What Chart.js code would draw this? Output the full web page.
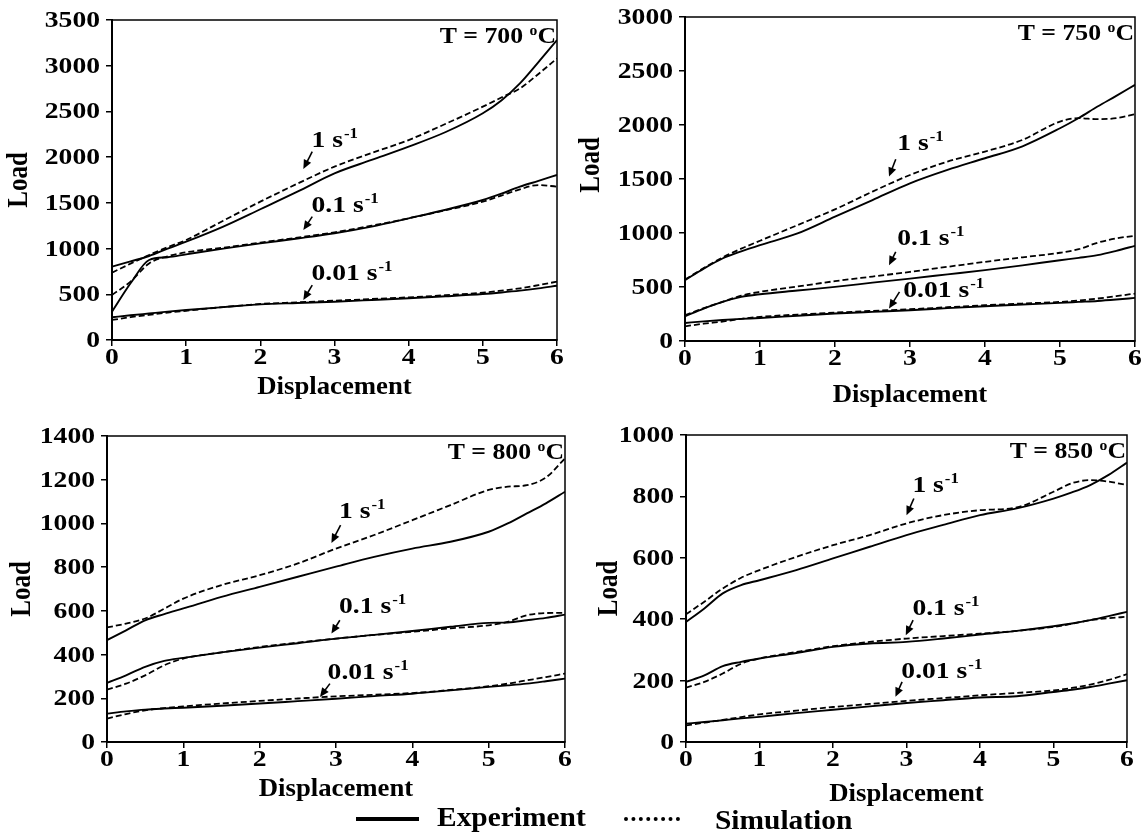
<html>
  <head>
    <script src="https://cdn.jsdelivr.net/npm/chart.js@4.4.1/dist/chart.umd.min.js"></script>
    <style>
      body { margin: 0; background: #fff; width: 1147px; height: 836px; position: relative; overflow: hidden; }
      canvas { position: absolute; }
      .leg { position: absolute; font: bold 27px "Liberation Serif", "Times New Roman", serif; line-height: 27px; color: #000; transform: scaleX(1.09); transform-origin: left center; }
    </style>
  </head>
  <body>
    <canvas id="c700" style="left:0;top:0" width="573" height="410"></canvas>
    <canvas id="c750" style="left:573px;top:0" width="574" height="410"></canvas>
    <canvas id="c800" style="left:0;top:415px" width="573" height="400"></canvas>
    <canvas id="c850" style="left:573px;top:415px" width="574" height="400"></canvas>

    <div style="position:absolute;left:356px;top:817px;width:63px;height:4px;background:#000"></div>
    <div class="leg" style="left:437px;top:804px">Experiment</div>
    <div style="position:absolute;left:624px;top:817px;width:56px;height:0;border-top:4px dotted #000"></div>
    <div class="leg" style="left:715px;top:807px">Simulation</div>

    <script>
// displacement values shared by every curve
const disp = [0, 0.25, 0.5, 0.75, 1, 1.5, 2, 2.5, 3, 3.5, 4, 4.5, 5, 5.25, 5.5, 5.75, 6];

// T = 700 C
const exp700_1   = [802, 860, 919, 1000, 1075, 1240, 1430, 1622, 1823, 1969, 2115, 2275, 2480, 2620, 2807, 3040, 3281];
const sim700_1   = [736, 835, 930, 1015, 1094, 1305, 1513, 1710, 1896, 2045, 2187, 2365, 2552, 2652, 2752, 2910, 3080];
const exp700_01  = [310, 620, 875, 905, 937, 1000, 1057, 1110, 1167, 1240, 1331, 1425, 1531, 1600, 1677, 1740, 1805];
const sim700_01  = [492, 638, 838, 915, 959, 1010, 1065, 1120, 1178, 1250, 1331, 1420, 1513, 1580, 1648, 1695, 1677];
const exp700_001 = [248, 270, 290, 310, 328, 360, 390, 405, 419, 437, 456, 478, 503, 520, 540, 565, 594];
const sim700_001 = [219, 250, 275, 300, 320, 360, 394, 412, 430, 448, 467, 490, 518, 540, 565, 600, 638];

// T = 750 C
const exp750_1   = [563, 670, 764, 830, 888, 996, 1151, 1305, 1460, 1584, 1692, 1803, 1970, 2065, 2171, 2270, 2372];
const sim750_1   = [569, 675, 773, 855, 928, 1073, 1219, 1383, 1537, 1661, 1754, 1862, 2032, 2063, 2054, 2063, 2100];
const exp750_01  = [229, 300, 362, 408, 433, 467, 501, 540, 578, 617, 656, 700, 748, 770, 795, 835, 881];
const sim750_01  = [238, 305, 362, 420, 455, 505, 554, 597, 640, 687, 733, 775, 817, 850, 910, 950, 975];
const exp750_001 = [167, 182, 195, 205, 213, 234, 254, 270, 285, 304, 322, 338, 353, 362, 371, 384, 399];
const sim750_001 = [136, 160, 180, 205, 223, 245, 263, 279, 294, 313, 331, 347, 362, 375, 393, 415, 439];

// T = 800 C
const exp800_1   = [466, 511, 557, 585, 611, 664, 710, 756, 802, 847, 885, 916, 962, 1000, 1046, 1092, 1145];
const sim800_1   = [524, 542, 565, 610, 656, 718, 763, 817, 885, 947, 1015, 1084, 1153, 1168, 1175, 1210, 1298];
const exp800_01  = [270, 305, 344, 371, 385, 410, 432, 452, 473, 490, 508, 527, 545, 547, 557, 568, 583];
const sim800_01  = [240, 267, 305, 351, 382, 410, 435, 455, 473, 490, 504, 520, 534, 550, 580, 590, 591];
const exp800_001 = [130, 140, 148, 153, 157, 166, 176, 187, 198, 210, 221, 236, 252, 259, 267, 278, 290];
const sim800_001 = [107, 128, 145, 155, 163, 176, 188, 199, 209, 216, 224, 238, 255, 267, 282, 297, 313];

// T = 850 C
const exp850_1   = [391, 435, 484, 511, 527, 560, 598, 636, 674, 707, 739, 761, 793, 813, 837, 870, 910];
const sim850_1   = [416, 457, 500, 535, 560, 603, 641, 674, 712, 739, 755, 764, 815, 843, 853, 848, 837];
const exp850_01  = [196, 217, 247, 261, 272, 290, 310, 321, 326, 337, 350, 362, 377, 386, 397, 410, 424];
const sim850_01  = [177, 196, 223, 255, 272, 293, 312, 326, 337, 345, 353, 362, 375, 385, 397, 403, 408];
const exp850_001 = [60, 65, 71, 77, 82, 94, 105, 116, 127, 136, 145, 149, 163, 170, 179, 190, 201];
const sim850_001 = [54, 63, 72, 81, 90, 102, 114, 124, 134, 143, 152, 160, 168, 176, 187, 202, 221];

// strain-rate labels: text, superscript, label anchor, arrow tail, arrow tip (data units)
const notes700 = [
  ["1 s", "-1", 2.69, 2114, 2.70, 2060, 2.58, 1870],
  ["0.1 s", "-1", 2.69, 1404, 2.70, 1349, 2.58, 1203],
  ["0.01 s", "-1", 2.69, 656, 2.70, 601, 2.58, 437],
];
const notes750 = [
  ["1 s", "-1", 2.83, 1769, 2.81, 1683, 2.72, 1522],
  ["0.1 s", "-1", 2.83, 888, 2.81, 826, 2.72, 702],
  ["0.01 s", "-1", 2.91, 408, 2.86, 455, 2.72, 300],
];
const notes800 = [
  ["1 s", "-1", 3.04, 1023, 3.06, 992, 2.94, 911],
  ["0.1 s", "-1", 3.04, 588, 3.05, 557, 2.94, 496],
  ["0.01 s", "-1", 2.89, 290, 2.92, 267, 2.79, 206],
];
const notes850 = [
  ["1 s", "-1", 3.08, 815, 3.10, 793, 3.00, 739],
  ["0.1 s", "-1", 3.08, 413, 3.09, 397, 2.99, 348],
  ["0.01 s", "-1", 2.93, 207, 2.94, 196, 2.85, 147],
];

const SERIF = '"Liberation Serif", "Times New Roman", serif';

// text in the scan is a little wider than the font, so stretch it sideways
function wideText(ctx, text, x, y, size, sx, align, baseline) {
  ctx.save();
  ctx.font = 'bold ' + size + 'px ' + SERIF;
  ctx.textAlign = align || 'left';
  ctx.textBaseline = baseline || 'alphabetic';
  ctx.translate(x, y);
  ctx.scale(sx, 1);
  ctx.fillText(text, 0, 0);
  const w = ctx.measureText(text).width * sx;
  ctx.restore();
  return w;
}

// frame, tick labels, axis titles, temperature and strain-rate notes
const decorations = {
  id: 'decorations',
  afterDraw(chart, args, opts) {
    const {ctx, chartArea: a, scales: {x, y}} = chart;
    ctx.save();
    ctx.strokeStyle = '#000';
    ctx.fillStyle = '#000';
    ctx.lineWidth = 1.5;
    ctx.strokeRect(a.left, a.top, a.right - a.left, a.bottom - a.top);

    // tick labels from the library's scales
    x.ticks.forEach(t => wideText(ctx, String(t.value), x.getPixelForValue(t.value), a.bottom + 18, 23, 1.2, 'center', 'middle'));
    y.ticks.forEach(t => wideText(ctx, String(t.value), a.left - 12, y.getPixelForValue(t.value) + 1, 23, 1.2, 'right', 'middle'));

    // axis titles
    wideText(ctx, 'Displacement', (a.left + a.right) / 2, a.bottom + opts.dispDy, 25, 1.07, 'center', 'middle');
    ctx.save();
    ctx.translate(opts.loadX, opts.loadY || (a.top + a.bottom) / 2);
    ctx.rotate(-Math.PI / 2);
    ctx.scale(1, 1.15);
    ctx.font = 'bold 25px ' + SERIF;
    ctx.textAlign = 'center';
    ctx.textBaseline = 'middle';
    ctx.fillText('Load', 0, 0);
    ctx.restore();

    // temperature, right aligned in the top corner
    const base = a.top + 23;
    let right = a.right - 1;
    ctx.font = 'bold 23px ' + SERIF;
    const cW = ctx.measureText('C').width * 1.12;
    wideText(ctx, 'C', right, base, 23, 1.12, 'right');
    ctx.font = 'bold 14px ' + SERIF;
    const oW = ctx.measureText('o').width * 1.12;
    wideText(ctx, 'o', right - cW, base - 8, 14, 1.12, 'right');
    wideText(ctx, 'T = ' + opts.temp + ' ', right - cW - oW, base, 23, 1.12, 'right');

    opts.notes.forEach(n => {
      const [txt, sup, lx, ly, tx, ty, hx, hy] = n;
      const px = x.getPixelForValue(lx), py = y.getPixelForValue(ly);
      const w = wideText(ctx, txt, px, py, 23, 1.2);
      wideText(ctx, sup, px + w + 1, py - 9, 14, 1.2);

      const x1 = x.getPixelForValue(tx), y1 = y.getPixelForValue(ty);
      const x2 = x.getPixelForValue(hx), y2 = y.getPixelForValue(hy);
      const ang = Math.atan2(y2 - y1, x2 - x1);
      ctx.lineWidth = 1.6;
      ctx.beginPath();
      ctx.moveTo(x1, y1);
      ctx.lineTo(x2 - 5 * Math.cos(ang), y2 - 5 * Math.sin(ang));
      ctx.stroke();
      ctx.beginPath();
      ctx.moveTo(x2, y2);
      ctx.lineTo(x2 - 10 * Math.cos(ang - 0.42), y2 - 10 * Math.sin(ang - 0.42));
      ctx.lineTo(x2 - 10 * Math.cos(ang + 0.42), y2 - 10 * Math.sin(ang + 0.42));
      ctx.closePath();
      ctx.fill();
    });
    ctx.restore();
  }
};

function curve(values, dashed) {
  return {
    data: disp.map((d, i) => ({x: d, y: values[i]})),
    borderColor: '#000',
    borderWidth: dashed ? 1.8 : 1.9,
    borderDash: dashed ? [6, 3] : [],
    pointRadius: 0,
    tension: 0.4,
    cubicInterpolationMode: 'monotone',
    fill: false,
  };
}

function makeChart(id, temp, yMax, yStep, exp, sim, notes, box) {
  new Chart(document.getElementById(id), {
    type: 'line',
    data: {
      datasets: [
        curve(exp[0], false), curve(sim[0], true),
        curve(exp[1], false), curve(sim[1], true),
        curve(exp[2], false), curve(sim[2], true),
      ]
    },
    options: {
      responsive: false,
      animation: false,
      layout: {padding: {top: box.top, right: box.right, left: 0, bottom: 0}},
      scales: {
        x: {
          type: 'linear', min: 0, max: 6,
          ticks: {stepSize: 1, display: false},
          grid: {drawOnChartArea: false, color: '#000', lineWidth: 1.5, tickLength: 6},
          border: {color: '#000', width: 2},
          afterFit: s => { s.height = box.xh; },
        },
        y: {
          min: 0, max: yMax,
          ticks: {stepSize: yStep, display: false},
          grid: {drawOnChartArea: false, color: '#000', lineWidth: 1.5, tickLength: 6},
          border: {color: '#000', width: 2},
          afterFit: s => { s.width = box.yw; },
        }
      },
      plugins: {
        legend: {display: false},
        tooltip: {enabled: false},
        decorations: {temp: temp, notes: notes, dispDy: box.dispDy, loadX: box.loadX, loadY: box.loadY},
      }
    },
    plugins: [decorations]
  });
}

makeChart('c700', 700, 3500, 500,
  [exp700_1, exp700_01, exp700_001], [sim700_1, sim700_01, sim700_001], notes700,
  {top: 20, right: 16, yw: 112, xh: 70, dispDy: 48, loadX: 20});
makeChart('c750', 750, 3000, 500,
  [exp750_1, exp750_01, exp750_001], [sim750_1, sim750_01, sim750_001], notes750,
  {top: 17, right: 12, yw: 112, xh: 69, dispDy: 55, loadX: 19, loadY: 165});
makeChart('c800', 800, 1400, 200,
  [exp800_1, exp800_01, exp800_001], [sim800_1, sim800_01, sim800_001], notes800,
  {top: 21, right: 8, yw: 107, xh: 73, dispDy: 48, loadX: 23});
makeChart('c850', 850, 1000, 200,
  [exp850_1, exp850_01, exp850_001], [sim850_1, sim850_01, sim850_001], notes850,
  {top: 20, right: 20, yw: 113, xh: 73, dispDy: 53, loadX: 37});
    </script>
  </body>
</html>
